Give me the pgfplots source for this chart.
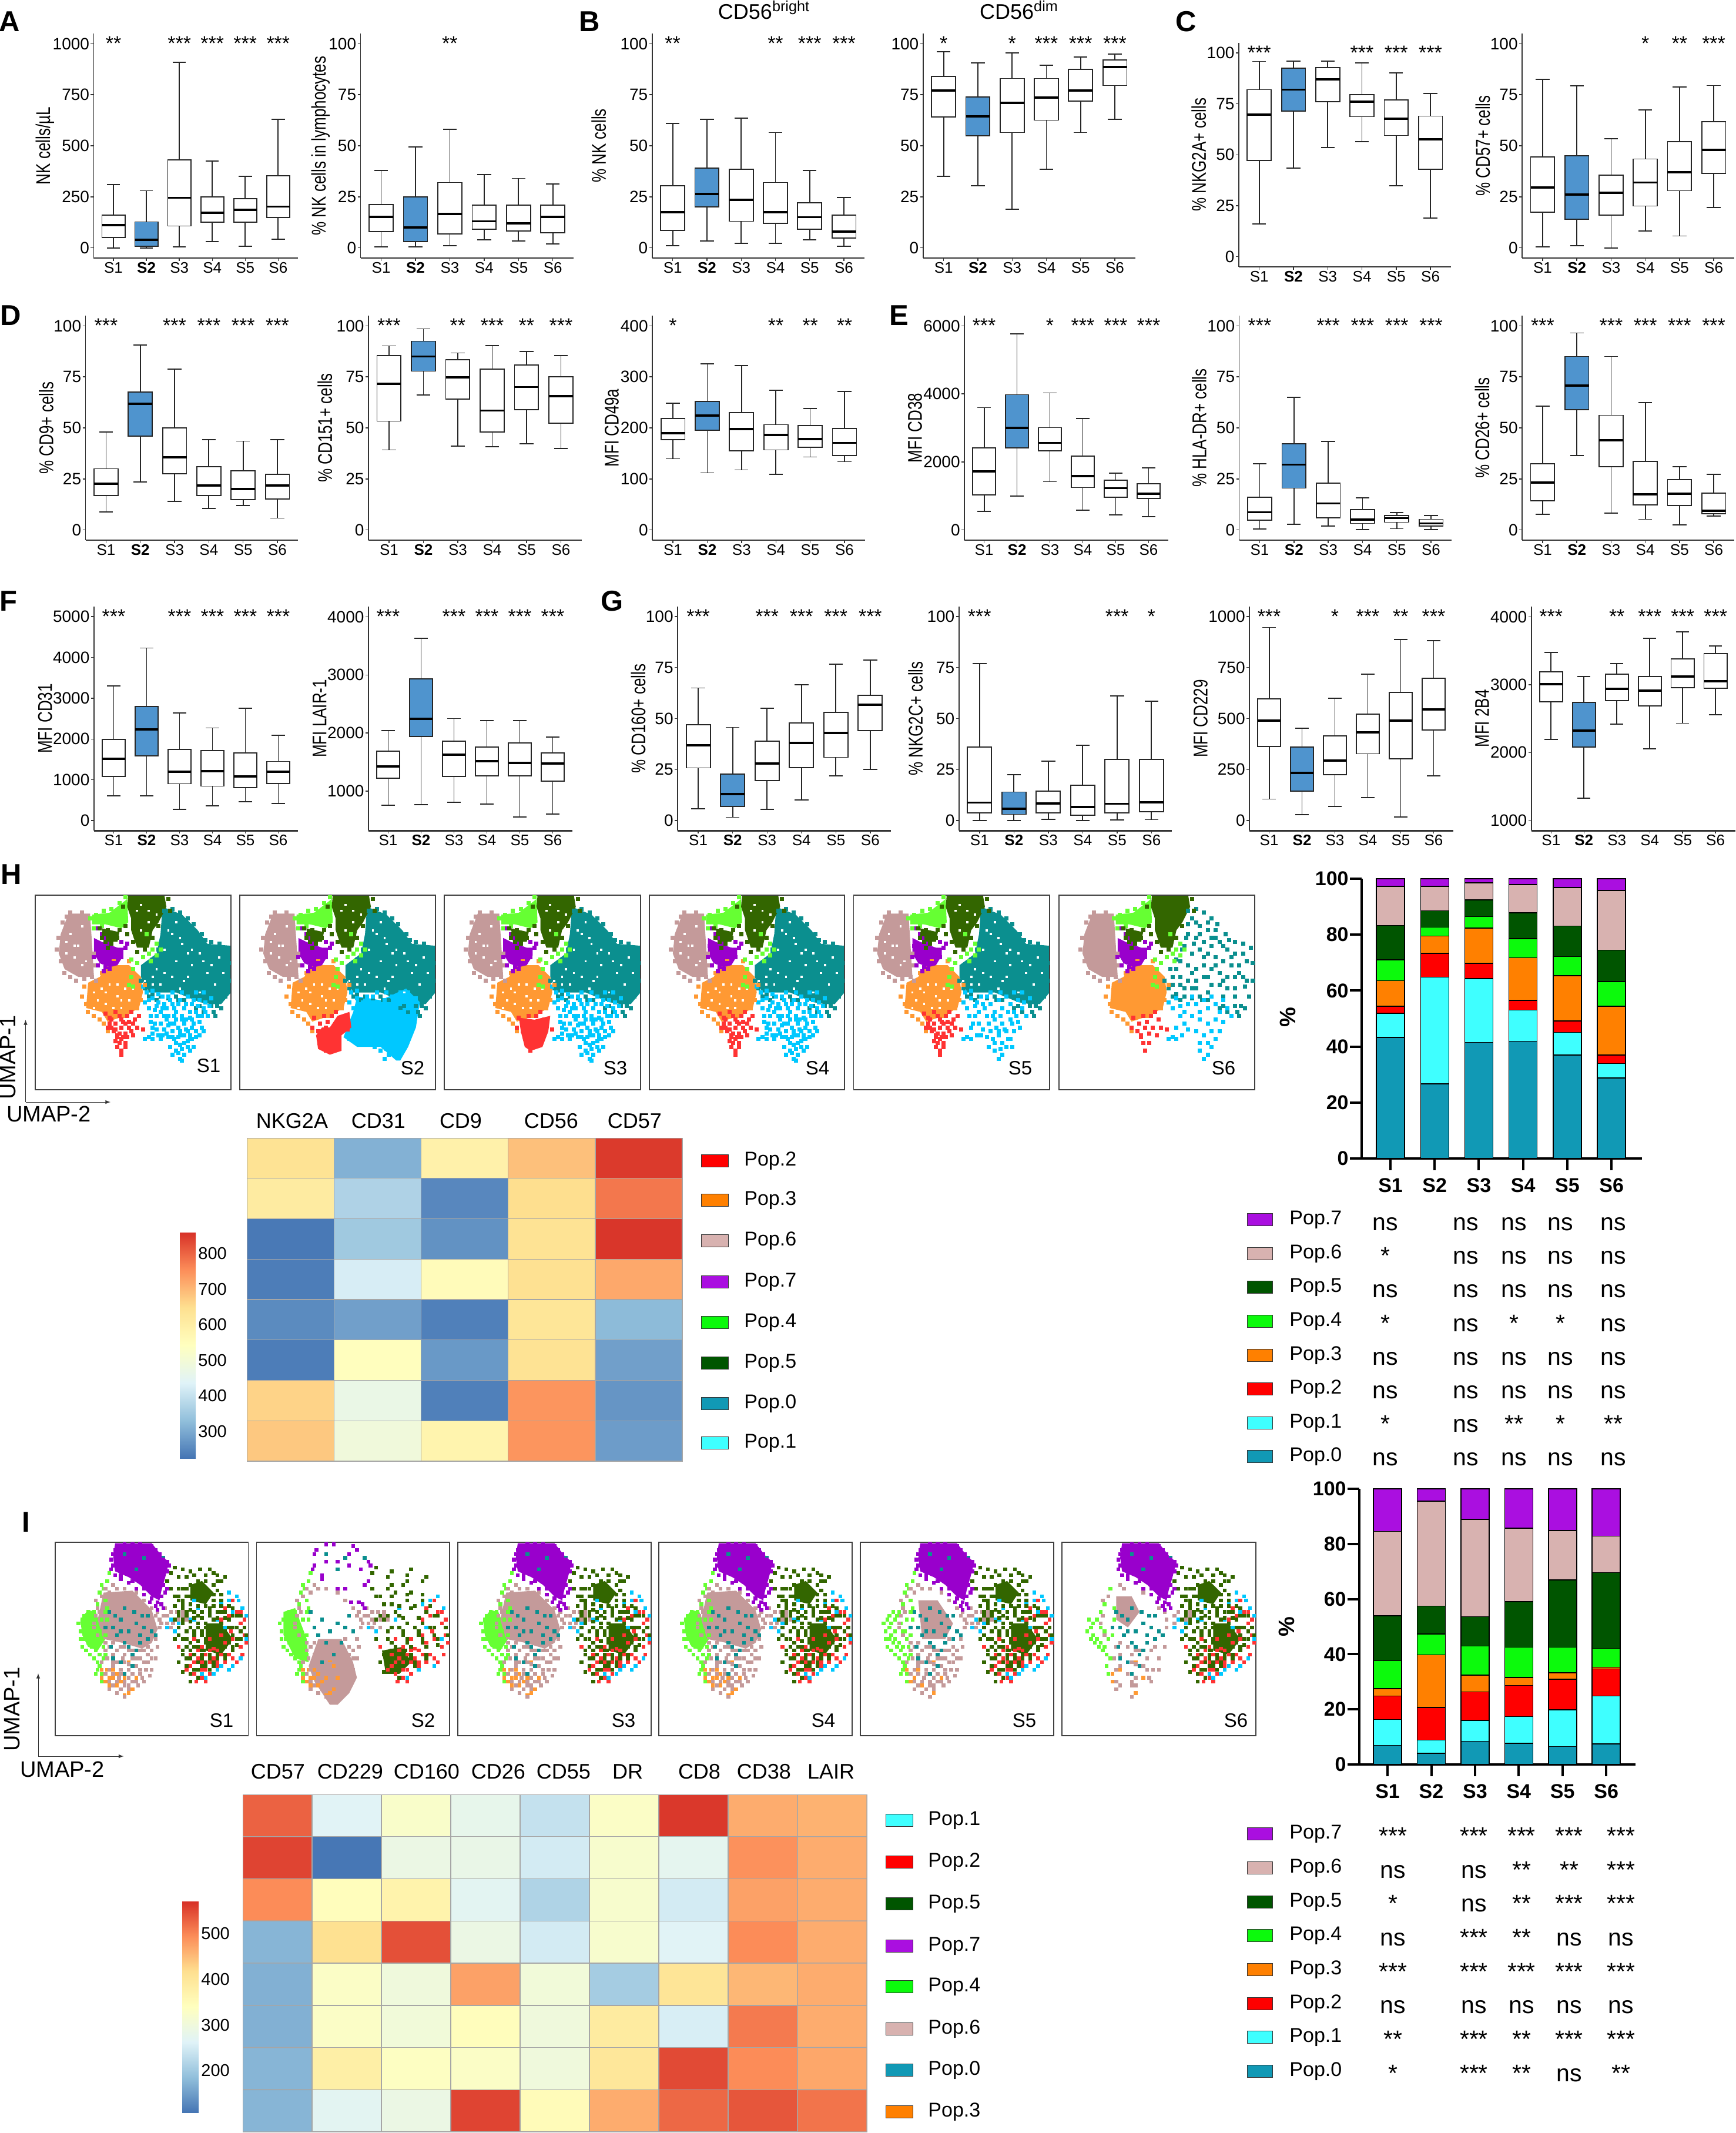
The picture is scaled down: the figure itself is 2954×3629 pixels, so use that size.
\documentclass[border=0pt]{standalone}
\usepackage{pgfplots}
\pgfplotsset{compat=1.18}
\usepackage{pgfplotstable}
\usepgfplotslibrary{statistics}
\usepackage{fontspec}
\setmainfont{Liberation Sans}
\newcommand\fs[1]{\fontsize{#1}{#1}\selectfont}
\definecolor{bluebox}{HTML}{4F94CE}
\definecolor{bP0}{HTML}{1199B5}\definecolor{bP1}{HTML}{3FFFFF}\definecolor{bP2}{HTML}{FF0000}\definecolor{bP3}{HTML}{FF8000}
\definecolor{bP4}{HTML}{0CFA0C}\definecolor{bP5}{HTML}{005500}\definecolor{bP6}{HTML}{D8B2B0}\definecolor{bP7}{HTML}{AA0FE0}
\definecolor{uP0}{HTML}{0B8F8F}\definecolor{uP1}{HTML}{00C8FF}\definecolor{uP2}{HTML}{FF3333}\definecolor{uP3}{HTML}{FF9933}
\definecolor{uP4}{HTML}{66FF33}\definecolor{uP5}{HTML}{336600}\definecolor{uP6}{HTML}{C49A9A}\definecolor{uP7}{HTML}{9900CC}

% ---------- UMAP points, panel H ----------
\newcommand\hPa{(66,8)(70,7)(74,9)(78,12)(81,15)(85,20)(87,23)(90,24)(94,25)(98,27)(99,35)(99,44)(97,52)(93,57)(91,60)(88,62)(90,57)(84,57)(80,56)(76,54)(72,52)(68,53)(64,52)(60,51)(56,48)(54,44)(57,38)(60,33)(63,28)(65,22)(66,15)(70,14)(76,18)(80,22)(69,25)(73,54)(82,58)(86,60)(92,62)(95,58)(78,52)(62,54)(58,52)}
\newcommand\hPab{(68,12)(72,16)(76,14)(80,18)(66,20)(70,22)(74,24)(78,26)(82,24)(86,28)(90,30)(94,30)(64,26)(68,30)(72,28)(76,30)(80,32)(84,34)(88,36)(92,36)(96,34)(62,34)(66,36)(70,38)(74,36)(78,38)(82,40)(86,42)(90,42)(94,42)(58,42)(62,42)(66,44)(70,44)(74,42)(78,46)(82,46)(86,48)(90,48)(95,47)(58,46)(64,48)(70,48)(76,50)(84,52)(60,38)(72,20)(78,22)(84,26)(74,32)(80,36)(68,40)(88,32)(92,40)(96,44)(84,44)(76,42)(68,48)(62,46)(90,52)}
\newcommand\hPb{(56,55)(58,58)(60,53)(62,57)(64,60)(66,56)(68,52)(70,56)(72,60)(74,54)(76,58)(78,52)(80,56)(82,60)(84,54)(86,58)(88,62)(84,65)(80,64)(76,66)(72,64)(68,62)(64,66)(62,62)(66,69)(70,70)(74,72)(78,70)(82,70)(80,74)(76,76)(72,76)(72,80)(76,82)(74,84)(78,78)(60,68)(58,73)(56,74)(60,74)(63,72)}
\newcommand\hPbb{(57,50)(60,49)(65,52)(70,50)(75,50)(82,50)(86,50)(90,53)(59,62)(63,55)(67,58)(71,62)(75,62)(79,60)(83,62)(87,55)(61,66)(65,72)(69,66)(73,68)(77,69)(81,66)(85,68)(79,74)(75,79)(71,74)(69,78)(81,78)(74,70)(68,73)}
\newcommand\hPbc{(55,47)(58,54)(61,59)(63,51)(65,58)(67,64)(69,54)(71,58)(73,56)(75,64)(77,56)(79,63)(81,54)(83,57)(85,62)(87,60)(89,57)(59,65)(62,69)(64,74)(67,71)(70,73)(73,73)(76,72)(79,72)(82,73)(80,68)(77,64)(71,66)(68,67)(66,62)(60,71)(74,77)(78,75)(73,81)(70,82)(75,85)(79,80)(84,72)(86,70)}
\newcommand\hPc{(38,63)(41,66)(43,62)(45,65)(47,62)(49,60)(51,64)(40,70)(42,72)(44,68)(46,71)(48,68)(50,72)(43,76)(46,76)(44,80)(42,73)(37,68)(52,68)(55,69)}
\newcommand\hPcb{(36,61)(39,64)(41,60)(44,64)(46,66)(48,65)(50,66)(39,68)(41,69)(43,71)(45,73)(47,73)(49,70)(41,75)(44,74)(46,78)(42,78)(44,82)(38,66)(53,62)}
\newcommand\hPd{(27,60)(30,62)(33,64)(35,66)(37,70)(36,58)(28,50)(25,47)(26,56)(30,46)(48,34)(50,38)(52,47)(54,54)(52,58)(49,60)(45,62)(56,46)(40,34)(34,40)(24,52)}
\newcommand\hPe{(28,12)(31,10)(35,8)(39,7)(43,4)(46,1)(44,9)(41,13)(34,16)(30,17)(57,20)(60,22)(62,25)(64,28)(60,28)(58,30)(55,32)(52,35)(50,38)(49,33)(59,34)(62,31)(49,42)(48,46)(50,47)}
\newcommand\hPf{(45,6)(68,2)(69,8)(63,16)(60,22)(56,28)(52,29)(50,24)(47,20)(46,16)(35,20)(37,18)(40,20)(42,22)(36,24)(39,25)(43,18)(33,17)(37,27)(34,22)}
\newcommand\hPg{(14,14)(16,11)(18,9)(24,9)(27,12)(12,22)(11,28)(13,34)(15,40)(18,42)(21,44)(25,43)(29,42)(30,36)(30,30)(20,14)(22,20)(26,30)(19,38)(31,44)}
\newcommand\hPh{(32,17)(35,22)(38,25)(41,28)(44,24)(46,27)(44,32)(40,35)(36,37)(32,36)(30,32)(31,26)(33,30)(36,30)(39,32)(34,20)(47,25)(38,38)(35,39)}
\newcommand\hW{(70,20)(75,25)(78,30)(84,30)(72,14)(66,28)(62,38)(70,42)(76,44)(80,36)(88,40)(92,46)(94,32)(84,50)(74,48)(64,46)(60,46)(56,44)(18,20)(22,26)(16,30)(24,36)(20,32)(36,50)(42,46)(44,54)(32,54)(30,58)(40,58)(52,8)(58,8)(54,18)(30,50)(34,48)(38,46)(42,52)(46,48)(50,48)(36,56)(44,58)(48,54)(16,24)(20,26)(26,34)(24,16)(58,14)(62,10)(54,5)(72,34)(78,42)(86,34)(96,40)(90,36)(66,40)(60,42)(74,22)(80,28)(68,18)}
% ---------- UMAP points, panel I ----------
\newcommand\iPh{(30,12)(32,3)(36,1)(44,1)(50,2)(54,6)(58,10)(58,15)(56,22)(55,28)(53,31)(50,29)(46,24)(40,20)(34,17)(55,18)(48,12)(40,8)(36,10)(44,16)}
\newcommand\iPhb{(31,4)(34,2)(40,1)(46,2)(52,4)(56,9)(59,12)(60,16)(58,20)(57,26)(55,32)(52,33)(49,31)(46,27)(42,24)(38,21)(34,19)(31,17)(29,14)(29,9)(30,6)(58,24)(56,34)(53,35)(54,14)(50,18)(42,10)(36,14)(48,6)(44,20)}
\newcommand\iPg{(21,30)(23,36)(20,42)(26,56)(30,58)(35,60)(38,63)(42,60)(46,56)(50,56)(53,54)(52,60)(50,66)(48,62)(44,66)(40,68)(38,70)(34,66)(30,64)(26,68)(28,72)(32,72)(36,74)(42,72)(45,70)(30,62)(34,54)(46,50)(54,40)(56,38)(60,36)(62,40)(58,42)(63,36)(66,38)(60,44)(27,60)(24,62)(38,56)(28,26)(32,24)}
\newcommand\iPgb{(24,28)(26,24)(30,22)(36,24)(42,26)(46,30)(50,34)(52,38)(54,44)(52,50)(48,54)(44,56)(40,56)(36,54)(30,52)(26,52)(22,48)(20,44)(21,38)(22,34)(28,54)(32,56)(36,58)(40,60)(44,60)(48,58)(50,60)(46,62)(42,64)(38,66)(34,68)(30,68)(28,66)(32,62)(36,62)(44,68)(47,66)(49,69)(46,72)(40,72)(36,72)(33,70)(30,74)(34,76)(38,74)(43,74)(28,76)(32,78)(36,80)(38,76)(58,38)(61,42)(64,40)(57,34)(66,36)(64,44)(60,40)(55,42)(53,36)(68,40)}
\newcommand\iPe{(14,40)(15,44)(13,46)(16,48)(18,50)(20,44)(22,46)(24,50)(26,48)(18,40)(20,36)(22,32)(24,28)(25,24)(16,42)(17,52)(15,50)(19,54)(21,56)(23,58)(25,60)(23,64)(24,68)(20,52)(22,54)(27,40)(27,34)}
\newcommand\iPeb{(12,42)(13,50)(14,54)(16,56)(18,58)(20,60)(22,62)(18,46)(15,38)(17,36)(19,38)(21,42)(23,46)(25,54)(26,58)(22,66)(24,72)(21,68)(26,30)(23,26)(24,22)(27,20)(28,16)(26,36)(24,40)}
\newcommand\iPf{(62,13)(66,14)(70,15)(75,14)(80,14)(84,17)(88,18)(82,22)(78,20)(74,20)(70,22)(66,24)(64,28)(68,28)(72,26)(76,24)(80,26)(84,25)(86,30)(82,30)(78,30)(74,30)(70,32)(66,34)(64,38)(68,36)(72,36)(76,36)(80,34)(84,36)(88,36)(92,34)(94,38)(90,40)(86,42)(82,40)(78,42)(74,42)(70,44)(66,42)(62,40)(64,48)(68,50)(72,48)(76,46)(80,46)(84,46)(88,46)(92,44)(96,46)(94,50)(90,52)(86,52)(82,52)(78,52)(74,54)(70,56)(66,56)(62,50)(68,60)(72,62)(76,60)(80,58)(84,58)(88,58)(92,56)(82,64)(78,64)(74,66)(70,68)(66,58)(80,38)(74,38)(86,36)(77,56)(83,43)}
\newcommand\iPfb{(60,16)(64,18)(68,18)(72,17)(78,17)(82,16)(86,20)(84,20)(76,22)(72,23)(68,24)(64,24)(62,28)(66,30)(70,28)(74,27)(78,27)(82,27)(86,27)(62,33)(66,32)(70,35)(74,33)(78,33)(82,33)(86,33)(90,33)(64,36)(68,38)(72,39)(76,39)(80,36)(84,39)(88,39)(92,38)(96,38)(66,40)(70,41)(74,44)(78,44)(82,44)(86,44)(90,44)(94,44)(98,44)(64,44)(68,46)(72,46)(76,48)(80,48)(84,48)(88,48)(92,48)(96,50)(99,48)(66,50)(70,52)(74,51)(78,50)(82,50)(86,50)(90,50)(94,53)(68,54)(72,54)(76,56)(80,54)(84,54)(88,54)(92,54)(72,58)(76,58)(80,60)(84,60)(88,60)(70,60)(74,62)(78,62)(82,62)(76,64)(72,66)(68,64)(64,62)(80,66)(66,67)(70,72)(74,70)(64,30)(60,24)(58,20)}
\newcommand\iPc{(86,40)(90,38)(94,36)(96,42)(98,48)(96,54)(92,60)(88,62)(84,62)(80,56)(76,54)(80,50)(86,48)(74,60)(72,50)(78,66)(82,60)(70,64)(76,70)(72,68)(64,54)(91,46)}
\newcommand\iPcb{(88,34)(92,30)(96,36)(98,40)(99,52)(97,58)(94,62)(90,58)(86,58)(82,55)(78,58)(74,56)(70,58)(80,62)(84,56)(88,52)(92,50)(76,62)(72,62)(68,66)(76,66)(80,68)(84,64)(78,72)(73,72)}
\newcommand\iPb{(86,32)(90,30)(94,28)(97,34)(98,44)(96,50)(92,64)(84,66)(78,70)(66,40)(58,44)(72,40)(88,44)(74,34)(62,46)}
\newcommand\iPbb{(90,26)(95,30)(99,38)(99,50)(96,60)(90,66)(86,64)(70,40)(64,42)(76,68)(82,68)(72,30)(60,40)(84,40)(92,36)}
\newcommand\iPa{(28,36)(34,40)(38,46)(42,42)(46,44)(32,48)(36,52)(44,52)(50,46)(48,38)(40,58)(34,62)(30,44)(56,8)(46,8)(42,14)(36,6)}
\newcommand\iPab{(26,44)(31,38)(36,34)(41,36)(45,38)(48,50)(44,48)(38,54)(42,56)(34,46)(29,54)(36,68)(40,64)(30,60)(52,48)}
\newcommand\iPd{(26,68)(28,70)(30,66)(34,66)(38,62)(40,64)(26,72)(32,74)(38,78)(24,66)(42,70)}
\newcommand\iPdb{(30,70)(36,70)(28,74)(34,72)(40,76)(36,79)(27,66)(44,66)(32,68)(24,70)}

\newcommand\ptsb[3]{\addplot[only marks,mark=square*,mark size=\msize,color=#2,mark options={solid,fill=#2,draw=#2,line width=0pt},#1] coordinates {#3};}
\newcommand\pts[3][]{\expandafter\ptsc\expandafter{#3}{#1}{#2}}
\newcommand\ptsc[3]{\ptsb{#2}{#3}{#1}}
\def\msize{1.5pt}
\newcommand\poly[2]{\addplot[fill=#1,draw=none] coordinates {#2};}
\newcommand\wh{\pts[mark size=.7pt]{white}{\hW}}

% polygons, H
\newcommand\hZero{\poly{uP0}{(65,6)(75,10)(83,18)(88,25)(100,26)(100,50)(95,56)(90,56)(84,55)(72,50)(58,50)(54,42)(54,36)(62,30)(64,20)}}
\newcommand\hFive{\poly{uP5}{(47.5,0)(66,0)(67,6)(63,14)(60,18)(58,27)(52,27)(49,18)(49,12)(47,6)}\poly{uP5}{(34,17)(43,19)(42,24)(35,24)}}
\newcommand\hFour{\poly{uP4}{(29,10)(38,9)(47,2)(47.5,14)(44,17)(36,15)(29,15)}}
\newcommand\hSix{\poly{uP6}{(17,9.5)(28,9.5)(29,25)(30,42)(22,42)(15,38)(12,30)(13,20)}}
\newcommand\hSeven{\poly{uP7}{(30,22)(34,24)(42,27)(45,27)(45,31)(42,36)(38,37)(33,35)(30,30)}}
\newcommand\hThree{\poly{uP3}{(36,36)(48,36)(54,42)(55,50)(53,58)(46,62)(37,65)(34,60)(26,58)(27,45)(33,42)}}
\newcommand\hCommonA{\pts{uP3}{\hPd}\pts{uP6}{\hPg}}
\newcommand\hCommonB{\hSix\wh\hFour\pts{uP4}{\hPe}\hSeven\pts{uP7}{\hPh}\hFive\pts{uP5}{\hPf}}
\newcommand\umap[5]{% x0 y0 x1 y1 body
\begin{axis}[at={(\fpeval{(#1)*0.5}pt,\fpeval{-(#4)*0.5}pt)},anchor=south west,scale only axis,width={\fpeval{(#3-#1)*0.5}pt},height={\fpeval{(#4-#2)*0.5}pt},xmin=0,xmax=100,ymin=0,ymax=100,y dir=reverse,ticks=none,axis line style={draw=black!75,line width=.9pt},axis on top]
#5
\end{axis}}

% polygons, I
\newcommand\iSeven{\poly{uP7}{(31,.5)(50,.5)(56,8)(59,10)(57,18)(55,25)(54,30)(50,28)(44,22)(38,18)(31,15)(30,8)}}
\newcommand\iSix{\poly{uP6}{(25,26)(40,25)(50,35)(53,45)(50,52)(45,55)(35,52)(25,50)(22,40)}}
\newcommand\iFour{\poly{uP4}{(13,40)(17,35)(21,36)(24,44)(26,50)(22,56)(17,54)(14,48)}}
\newcommand\iFive{\poly{uP5}{(70,22)(76,20)(82,26)(78,32)(70,30)}\poly{uP5}{(78,42)(86,42)(92,50)(86,58)(78,56)}}
\newcommand\iAll{\pts{uP3}{\iPd}\pts{uP3}{\iPdb}\pts{uP4}{\iPe}\pts{uP4}{\iPeb}\iFour\iSix\pts{uP6}{\iPg}\pts{uP6}{\iPgb}\pts{uP0}{\iPa}\pts{uP0}{\iPab}\iSeven\pts{uP7}{\iPh}\pts{uP7}{\iPhb}\pts{uP1}{\iPb}\pts{uP1}{\iPbb}\pts{uP2}{\iPc}\pts{uP5}{\iPf}\pts{uP5}{\iPfb}\iFive\pts{uP2}{\iPcb}}

% ---------- boxplots ----------
\newcommand\Bx[6]{\addplot[draw=black!85,line width=.9pt,fill=white,forget plot,boxplot prepared={draw direction=y,draw position=#1,lower whisker=#2,lower quartile=#3,median=#4,upper quartile=#5,upper whisker=#6,box extend=0.7,whisker extend=0.4,every median/.style={line width=1.9pt,black}}] coordinates {};}
\newcommand\Bb[6]{\addplot[draw=black!85,line width=.9pt,fill=bluebox,forget plot,boxplot prepared={draw direction=y,draw position=#1,lower whisker=#2,lower quartile=#3,median=#4,upper quartile=#5,upper whisker=#6,box extend=0.7,whisker extend=0.4,every median/.style={line width=1.9pt,black}}] coordinates {};}
\newcommand\St[2]{\node[anchor=base,font=\fs{17}] at (axis cs:#1,\starY) {#2};}
\newcommand\rowset[2]{\def\rt{#1}\def\rb{#2}}
\newcommand\boxpanel[8]{% x0 x1 ymin ymax ticks label offset body
\edef\starY{\fpeval{#3+0.925*(#4-#3)}}%
\begin{axis}[at={(\fpeval{(#1)*0.5}pt,\fpeval{-(\rb)*0.5}pt)},anchor=south west,scale only axis,width={\fpeval{(#2-#1)*0.5}pt},height={\fpeval{(\rb-\rt)*0.5}pt},
 xmin=0.4,xmax=6.6,ymin=#3,ymax=#4,axis lines=left,clip=false,
 x axis line style={-,line width=1.4pt,draw=black!80},y axis line style={-,line width=.8pt,draw=black!80},
 tick style={draw=black!80,line width=.7pt},tick align=outside,major tick length=2.5pt,
 xtick={1,2,3,4,5,6},xticklabels={S1,\textbf{S2},S3,S4,S5,S6},ytick={#5},scaled y ticks=false,
 xticklabel style={font=\fs{13},yshift=2.5pt},yticklabel style={font=\fs{14},inner xsep=1pt,/pgf/number format/.cd,fixed,1000 sep={},assume math mode=true}]
#8
\end{axis}
\node[rotate=90,font=\fs{13}] at ({#1+#7},{(\rt+\rb)/2}) {\scalebox{1}[1.3]{#6}};}
\newcommand\letter[3]{\node[font=\fs{24.5}\bfseries] at (#1,#2) {#3};}
\def\tc{0,25,50,75,100}

% ---------- stacked bars ----------
\newcommand\stackaxis[6]{% x0 x1 ytop ybot xmin xmax (body after)
\begin{axis}[at={(\fpeval{(#1)*0.5}pt,\fpeval{-(#4)*0.5}pt)},anchor=south west,scale only axis,width={\fpeval{(#2-#1)*0.5}pt},height={\fpeval{(#4-#3)*0.5}pt},
 xmin=#5,xmax=#6,ymin=0,ymax=100,axis lines=left,axis line style={-,line width=2pt},clip=false,
 ybar stacked,bar width=24pt,tick align=outside,major tick length=10pt,tick style={line width=2pt,black},
 xtick={1,2,3,4,5,6},xticklabels={S1,S2,S3,S4,S5,S6},ytick={0,20,40,60,80,100},
 ticklabel style={font=\fs{17}\bfseries},xticklabel style={yshift=-3.5pt},yticklabel style={/pgf/number format/assume math mode=true,inner xsep=1pt}]
}
\newcommand\seg[2]{\addplot[fill=#1,draw=black,line width=.75pt] coordinates {#2};}
\newcommand\swatch[5]{\draw[fill=#4,draw=black!80,line width=.5pt] (#1,{#3-10.5}) rectangle (#2,{#3+10.5}); \node[anchor=west,inner sep=0pt,font=\fs{17}] at ({#2+\swgap},#3) {#5};}
\def\swgap{29}
\newcommand\sg[3]{\node[anchor=base,font=\fs{20.5},inner sep=0pt] at (#1,#2) {#3};}
\newcommand\sigrow[6]{\sg{\ca}{#1}{#2}\sg{\cb}{#1}{#3}\sg{\cc}{#1}{#4}\sg{\cd}{#1}{#5}\sg{\ce}{#1}{#6}}
\newcommand\umlab[3]{\node[font=\fs{16.5}] at (#1,#2) {#3};}
\pgfplotsset{colormap={rdy}{rgb255=(69,117,180) rgb255=(145,191,219) rgb255=(224,243,248) rgb255=(255,255,191) rgb255=(254,224,144) rgb255=(252,141,89) rgb255=(215,48,39)}}

\begin{document}
\begin{tikzpicture}[x=0.5pt,y=-0.5pt]
\useasboundingbox (0,0) rectangle (2954,3629);
\fill[white] (0,0) rectangle (2954,3629);
% letters
\letter{16}{37}{A}\letter{1003}{37}{B}\letter{2018}{37}{C}\letter{18}{537}{D}\letter{1530}{537}{E}\letter{14}{1023}{F}\letter{1042}{1023}{G}\letter{19}{1488}{H}\letter{44}{2590}{I}
\node[font=\fs{18}] at (1300,17) {CD56\textsuperscript{bright}};
\node[font=\fs{18}] at (1734,17) {CD56\textsuperscript{dim}};

% ===== row 1 =====
\rowset{57}{439}
\boxpanel{159.4}{507}{-50}{1050}{0,250,500,750,1000}{NK cells/µL}{-83}{
\Bx{1}{0}{50}{112}{160}{310}\Bb{2}{0}{8}{40}{127}{280}\Bx{3}{5}{107}{245}{430}{910}\Bx{4}{30}{125}{172}{250}{425}\Bx{5}{8}{125}{185}{241}{350}\Bx{6}{42}{148}{202}{352}{630}
\St{1}{**}\St{3}{***}\St{4}{***}\St{5}{***}\St{6}{***}}
\boxpanel{613.5}{975.8}{-5}{105}{\tc}{\% NK cells in lymphocytes}{-68}{
\Bx{1}{.5}{8}{15.2}{21.2}{38}\Bb{2}{.5}{3}{10}{25}{49.5}\Bx{3}{1}{6.7}{16.5}{32}{58}\Bx{4}{4}{9}{13}{21}{36}\Bx{5}{3.3}{8.2}{12}{21}{34}\Bx{6}{1.8}{7.4}{15.2}{21}{31.3}
\St{3}{**}}
\boxpanel{1109.7}{1471}{-5}{105}{\tc}{\% NK cells}{-91}{
\Bx{1}{1}{8.5}{17.5}{30.5}{61}\Bb{2}{3.4}{20}{26.5}{39}{63}\Bx{3}{2.3}{13}{23.5}{38.5}{63.5}\Bx{4}{2.2}{12}{17.5}{32}{56.5}\Bx{5}{3.9}{9.2}{15}{22}{38}\Bx{6}{.8}{4.7}{8}{16}{24.7}
\St{1}{**}\St{4}{**}\St{5}{***}\St{6}{***}}
\boxpanel{1570.7}{1932}{-5}{105}{\tc}{}{-70}{
\Bx{1}{35}{64}{77}{84}{96}\Bb{2}{30.5}{55}{64.5}{74}{90.5}\Bx{3}{19}{56.5}{71}{83}{95.5}\Bx{4}{38.5}{62.5}{73.5}{83}{89.5}\Bx{5}{56.5}{72}{77}{87.5}{93.5}\Bx{6}{63}{79.5}{88.5}{92}{95}
\St{1}{*}\St{3}{*}\St{4}{***}\St{5}{***}\St{6}{***}}
\rowset{72.7}{454}
\boxpanel{2107.8}{2469}{-5}{105}{\tc}{\% NKG2A+ cells}{-68}{
\Bx{1}{16}{47.2}{69.7}{82}{95.8}\Bb{2}{43.5}{71.5}{82}{92.5}{96}\Bx{3}{53.5}{76}{87}{92.7}{96}\Bx{4}{56.5}{68.7}{76}{79.5}{95.2}\Bx{5}{34.8}{59.5}{67.7}{77}{90.3}\Bx{6}{19}{43}{57.5}{69}{80}
\St{1}{***}\St{4}{***}\St{5}{***}\St{6}{***}}
\rowset{57}{439}
\boxpanel{2590}{2951}{-5}{105}{\tc}{\% CD57+ cells}{-67}{
\Bx{1}{.5}{17.5}{29.5}{44.5}{82.5}\Bb{2}{1}{14}{26}{45}{79.3}\Bx{3}{0}{16}{27}{35.7}{53.5}\Bx{4}{8.3}{20.5}{32}{43.5}{67.5}\Bx{5}{5.8}{28}{37}{52}{78.7}\Bx{6}{19.8}{36.5}{48}{61.7}{79.5}
\St{4}{*}\St{5}{**}\St{6}{***}}

% ===== row 2 =====
\rowset{537}{919}
\boxpanel{145.5}{507}{-5}{105}{\tc}{\% CD9+ cells}{-67}{
\Bx{1}{8.8}{17}{22.7}{30}{48}\Bb{2}{23.5}{46}{61.7}{67.5}{90.7}\Bx{3}{14}{27.5}{35.5}{50}{78.8}\Bx{4}{10.5}{16.8}{21.8}{31}{44.3}\Bx{5}{12}{14.8}{20}{29}{43.5}\Bx{6}{5.8}{15.2}{21.8}{27.2}{44.3}
\St{1}{***}\St{3}{***}\St{4}{***}\St{5}{***}\St{6}{***}}
\boxpanel{626.8}{989.5}{-5}{105}{\tc}{\% CD151+ cells}{-74}{
\Bx{1}{39.2}{53.3}{71.7}{85.5}{90.2}\Bb{2}{66.2}{77.8}{85}{92.5}{98.5}\Bx{3}{41}{64}{74.7}{83.5}{86.7}\Bx{4}{40.8}{48}{58.5}{78.7}{90.3}\Bx{5}{42.3}{59}{70}{80.7}{87.5}\Bx{6}{40}{52.3}{65.5}{75}{85.5}
\St{1}{***}\St{3}{**}\St{4}{***}\St{5}{**}\St{6}{***}}
\boxpanel{1110}{1472}{-20}{420}{0,100,200,300,400}{MFI CD49a}{-69}{
\Bx{1}{139.5}{177}{190}{218}{248.6}\Bb{2}{111.8}{195}{224}{252}{326}\Bx{3}{117.6}{155}{197.5}{230}{322}\Bx{4}{108.7}{156.8}{186}{206.3}{274}\Bx{5}{143}{162}{178}{205}{238}\Bx{6}{133.7}{146}{170.6}{199}{271}
\St{1}{*}\St{4}{**}\St{5}{**}\St{6}{**}}
\boxpanel{1641}{1988}{-300}{6300}{0,2000,4000,6000}{MFI CD38}{-84}{
\Bx{1}{548}{1037}{1723}{2409}{3596}\Bb{2}{991}{2409}{3003}{3977}{5758}\Bx{3}{1418}{2323}{2559}{3009}{4029}\Bx{4}{576}{1245}{1585}{2167}{3280}\Bx{5}{444}{968}{1228}{1464}{1666}\Bx{6}{398}{928}{1066}{1360}{1821}
\St{1}{***}\St{3}{*}\St{4}{***}\St{5}{***}\St{6}{***}}
\boxpanel{2108.5}{2470}{-5}{105}{\tc}{\% HLA-DR+ cells}{-68}{
\Bx{1}{.5}{4.8}{8.7}{16}{32.5}\Bb{2}{2.8}{20.5}{32}{42.3}{65}\Bx{3}{2}{6}{13}{23}{43.3}\Bx{4}{.2}{3.2}{5.1}{10}{15.8}\Bx{5}{.6}{3.8}{5.8}{7}{8.6}\Bx{6}{.1}{1.8}{3.2}{5.2}{7.2}
\St{1}{***}\St{3}{***}\St{4}{***}\St{5}{***}\St{6}{***}}
\boxpanel{2590}{2951}{-5}{105}{\tc}{\% CD26+ cells}{-68}{
\Bx{1}{7.6}{14.2}{23.3}{32.5}{60.7}\Bb{2}{36.5}{59}{70.7}{85}{96.5}\Bx{3}{8.2}{31}{44}{56.2}{85}\Bx{4}{5.2}{12.2}{17.4}{33.7}{62.3}\Bx{5}{2.5}{12.1}{17.8}{24.7}{31}\Bx{6}{6.8}{8}{9.4}{18}{27.3}
\St{1}{***}\St{3}{***}\St{4}{***}\St{5}{***}\St{6}{***}}

% ===== row 3 =====
\rowset{1031.7}{1413.3}
\boxpanel{159.8}{507}{-250}{5250}{0,1000,2000,3000,4000,5000}{MFI CD31}{-83}{
\Bx{1}{601}{1078}{1511}{1987}{3301}\Bb{2}{606}{1588}{2233}{2801}{4230}\Bx{3}{279}{900}{1198}{1742}{2632}\Bx{4}{356}{842}{1208}{1718}{2271}\Bx{5}{462}{808}{1083}{1660}{2748}\Bx{6}{419}{910}{1198}{1448}{2089}
\St{1}{***}\St{3}{***}\St{4}{***}\St{5}{***}\St{6}{***}}
\boxpanel{626.8}{974}{319}{4179}{1000,2000,3000,4000}{MFI LAIR-1}{-83}{
\Bx{1}{757}{1222}{1421}{1688}{2045}\Bb{2}{767}{1944}{2244}{2935}{3629}\Bx{3}{804}{1249}{1627}{1863}{2250}\Bx{4}{781}{1263}{1516}{1755}{2214}\Bx{5}{555}{1260}{1482}{1829}{2214}\Bx{6}{606}{1172}{1479}{1661}{1931}
\St{1}{***}\St{3}{***}\St{4}{***}\St{5}{***}\St{6}{***}}
\boxpanel{1153}{1516}{-5}{105}{\tc}{\% CD160+ cells}{-67}{
\Bx{1}{5.7}{25.8}{37}{47}{65}\Bb{2}{1.6}{7}{12.9}{22.7}{45.7}\Bx{3}{5.4}{19.5}{28}{39}{55}\Bx{4}{10}{26}{38}{47.8}{66.6}\Bx{5}{21.8}{31}{43}{53}{76.7}\Bx{6}{25}{44}{56.8}{61.3}{78.6}
\St{1}{***}\St{3}{***}\St{4}{***}\St{5}{***}\St{6}{***}}
\boxpanel{1631.7}{1994.4}{-5}{105}{\tc}{\% NKG2C+ cells}{-74}{
\Bx{1}{0}{3.8}{8.8}{36}{77}\Bb{2}{0}{3}{5.7}{14}{22.5}\Bx{3}{.5}{3.7}{8.3}{14.3}{29}\Bx{4}{0}{2.5}{6.7}{17.3}{37}\Bx{5}{.2}{3.7}{8.2}{30}{61}\Bx{6}{.4}{4.3}{9}{30}{58.4}
\St{1}{***}\St{5}{***}\St{6}{*}}
\boxpanel{2126}{2473}{-50}{1050}{0,250,500,750,1000}{MFI CD229}{-83}{
\Bx{1}{105}{362}{490}{597}{947}\Bb{2}{28}{143}{234}{361}{453}\Bx{3}{69}{224}{295}{416}{600}\Bx{4}{113}{327}{433}{522}{718}\Bx{5}{17}{302}{489}{629}{888}\Bx{6}{218}{443}{545}{697}{881}
\St{1}{***}\St{3}{*}\St{4}{***}\St{5}{**}\St{6}{***}}
\boxpanel{2605.7}{2952.7}{847}{4153}{1000,2000,3000,4000}{MFI 2B4}{-84}{
\Bx{1}{2190}{2750}{3010}{3186}{3472}\Bb{2}{1326}{2080}{2325}{2741}{3122}\Bx{3}{2421}{2764}{2940}{3157}{3310}\Bx{4}{2051}{2689}{2914}{3117}{3683}\Bx{5}{2430}{2952}{3117}{3377}{3775}\Bx{6}{2559}{2943}{3050}{3460}{3573}
\St{1}{***}\St{3}{**}\St{4}{***}\St{5}{***}\St{6}{***}}

% ===== H UMAPs =====
\umap{60}{1523}{393}{1854}{\hZero\pts{uP0}{\hPa}\pts{uP1}{\hPb}\pts{uP1}{\hPbb}\pts{uP1}{\hPbc}\hThree\hCommonA\pts{uP2}{\hPc}\pts{uP2}{\hPcb}\hCommonB}
\umap{408}{1523}{741}{1854}{\hZero\pts{uP0}{\hPa}\poly{uP1}{(60,52)(72,54)(85,48)(92,55)(90,68)(86,78)(82,85)(80,85)(72,78)(60,78)(53,73)(56,65)(58,60)}\pts{uP1}{\hPb}\pts{uP1}{\hPbb}\hThree\hCommonA\poly{uP2}{(50,62)(56,60)(57,68)(52,72)(52,80)(46,82)(40,79)(39,72)(42,68)(46,68)}\pts{uP2}{\hPc}\hCommonB}
\umap{756}{1523}{1090}{1854}{\hZero\pts{uP0}{\hPa}\pts{uP1}{\hPb}\pts{uP1}{\hPbb}\pts{uP1}{\hPbc}\hThree\hCommonA\poly{uP2}{(38,63)(46,64)(54,62)(53,70)(50,78)(44,80)(41,78)(39,70)}\pts{uP2}{\hPc}\hCommonB}
\umap{1105}{1523}{1437}{1854}{\hZero\pts{uP0}{\hPa}\pts{uP1}{\hPb}\pts{uP1}{\hPbb}\pts{uP1}{\hPbc}\hThree\hCommonA\pts{uP2}{\hPc}\pts{uP2}{\hPcb}\hCommonB}
\umap{1452.5}{1523}{1786}{1854}{\hZero\pts{uP0}{\hPa}\pts{uP1}{\hPb}\pts{uP1}{\hPbb}\hThree\hCommonA\pts{uP2}{\hPc}\pts{uP2}{\hPcb}\hCommonB}
\umap{1802}{1523}{2135}{1854}{\pts{uP0}{\hPa}\pts{uP0}{\hPab}\pts{uP1}{\hPb}\pts{uP3}{\hPd}\hThree\pts{uP6}{\hPg}\pts{uP2}{\hPc}\hSix\hFour\pts{uP4}{\hPe}\hSeven\pts{uP7}{\hPh}\hFive\pts{uP5}{\hPf}}
\umlab{355}{1813}{S1}\umlab{702}{1817}{S2}\umlab{1047}{1817}{S3}\umlab{1391}{1817}{S4}\umlab{1736}{1817}{S5}\umlab{2082}{1817}{S6}
\draw[-latex,black!80,line width=.5pt] (43.5,1875) -- (43.5,1735);
\draw[-latex,black!80,line width=.5pt] (43.5,1875) -- (188,1875);
\node[rotate=90,font=\fs{19}] at (14,1799) {UMAP-1};
\node[font=\fs{19}] at (83,1895) {UMAP-2};

% H heatmap
\begin{axis}[at={(210pt,-1243pt)},anchor=south west,scale only axis,width=370.5pt,height=275pt,xmin=-.5,xmax=4.5,ymin=-.5,ymax=7.5,y dir=reverse,ticks=none,axis line style={draw=gray!70},point meta min=224,point meta max=861,colormap name=rdy,colorbar,
 colorbar style={at={(parent axis.south west)},anchor=south west,xshift=-65.5pt,yshift=2.5pt,width=13.5pt,height=192.5pt,ytick={300,400,500,600,700,800},ytick pos=right,major tick length=0pt,axis line style={draw=none},yticklabel style={font=\fs{14.5},inner xsep=2pt,/pgf/number format/assume math mode=true}}]
\addplot[matrix plot,mesh/cols=5,point meta=explicit,draw=gray!70,line width=.7pt] coordinates {
(0,0)[640](1,0)[310](2,0)[590](3,0)[690](4,0)[850]
(0,1)[610](1,1)[370](2,1)[250](3,1)[650](4,1)[780]
(0,2)[230](1,2)[350](2,2)[265](3,2)[640](4,2)[855]
(0,3)[235](1,3)[425](2,3)[555](3,3)[645](4,3)[720]
(0,4)[255](1,4)[285](2,4)[240](3,4)[630](4,4)[325]
(0,5)[235](1,5)[545](2,5)[275](3,5)[640](4,5)[285]
(0,6)[665](1,6)[470](2,6)[240](3,6)[745](4,6)[270]
(0,7)[680](1,7)[490](2,7)[580](3,7)[745](4,7)[280]};
\end{axis}
\node[font=\fs{18}] at (497,1907) {NKG2A};\node[font=\fs{18}] at (644,1907) {CD31};\node[font=\fs{18}] at (784,1907) {CD9};\node[font=\fs{18}] at (938,1907) {CD56};\node[font=\fs{18}] at (1080,1907) {CD57};
\def\swgap{27}
\swatch{1193}{1239}{1975}{bP2}{Pop.2}\swatch{1193}{1239}{2042}{bP3}{Pop.3}\swatch{1193}{1239}{2111}{bP6}{Pop.6}\swatch{1193}{1239}{2181}{bP7}{Pop.7}\swatch{1193}{1239}{2250}{bP4}{Pop.4}\swatch{1193}{1239}{2319}{bP5}{Pop.5}\swatch{1193}{1239}{2388}{bP0}{Pop.0}\swatch{1193}{1239}{2455}{bP1}{Pop.1}

% H stacked
\stackaxis{2317}{2794}{1495}{1971}{0.348}{6.69}
\seg{bP0}{(1,43.3)(2,26.7)(3,41.5)(4,41.9)(5,37)(6,28.8)}
\seg{bP1}{(1,8.6)(2,38.1)(3,22.8)(4,11.1)(5,8.1)(6,5.1)}
\seg{bP2}{(1,2.5)(2,8.5)(3,5.5)(4,3.5)(5,4.1)(6,3.1)}
\seg{bP3}{(1,9.2)(2,6.2)(3,12.6)(4,15.2)(5,16.1)(6,17.4)}
\seg{bP4}{(1,7.4)(2,3.2)(3,4.1)(4,6.9)(5,6.9)(6,8.8)}
\seg{bP5}{(1,12.3)(2,5.9)(3,5.9)(4,9.2)(5,10.9)(6,11.3)}
\seg{bP6}{(1,14)(2,8.7)(3,6.1)(4,10.1)(5,13.8)(6,21.3)}
\seg{bP7}{(1,2.7)(2,2.7)(3,1.5)(4,2.1)(5,3.1)(6,4.2)}
\end{axis}
\node[rotate=90,font=\fs{19}\bfseries] at (2191,1731) {\%};
\def\swgap{29}
\swatch{2122}{2165}{2075}{bP7}{Pop.7}\swatch{2122}{2165}{2133}{bP6}{Pop.6}\swatch{2122}{2165}{2190}{bP5}{Pop.5}\swatch{2122}{2165}{2248}{bP4}{Pop.4}\swatch{2122}{2165}{2306}{bP3}{Pop.3}\swatch{2122}{2165}{2363}{bP2}{Pop.2}\swatch{2122}{2165}{2421}{bP1}{Pop.1}\swatch{2122}{2165}{2478}{bP0}{Pop.0}
\def\ca{2357}\def\cb{2494}\def\cc{2576}\def\cd{2655}\def\ce{2745}
\sigrow{2093}{ns}{ns}{ns}{ns}{ns}
\sigrow{2150}{*}{ns}{ns}{ns}{ns}
\sigrow{2207}{ns}{ns}{ns}{ns}{ns}
\sigrow{2265}{*}{ns}{*}{*}{ns}
\sigrow{2322}{ns}{ns}{ns}{ns}{ns}
\sigrow{2379}{ns}{ns}{ns}{ns}{ns}
\sigrow{2436}{*}{ns}{**}{*}{**}
\sigrow{2493}{ns}{ns}{ns}{ns}{ns}

% ===== I UMAPs =====
\def\msize{1.35pt}
\umap{94}{2624}{422.5}{2953}{\iAll}
\umap{436.5}{2624}{765}{2953}{\pts{uP3}{\iPd}\pts{uP3}{\iPdb}\pts{uP4}{\iPe}\pts{uP4}{\iPeb}\poly{uP4}{(14,36)(20,34)(26,50)(27,62)(20,60)(14,48)}\poly{uP6}{(32,50)(44,50)(50,62)(52,70)(48,78)(42,84)(38,84)(30,72)(27,64)}\pts{uP6}{\iPg}\pts{uP6}{\iPgb}\pts{uP0}{\iPa}\pts[each nth point=2]{uP7}{\iPh}\pts[each nth point=2]{uP7}{\iPhb}\pts{uP1}{\iPb}\pts{uP2}{\iPc}\pts[each nth point=2]{uP5}{\iPf}\pts[each nth point=2]{uP5}{\iPfb}\poly{uP5}{(65,56)(76,54)(80,62)(74,68)(67,68)}\pts{uP2}{\iPcb}}
\umap{779}{2624}{1108}{2953}{\iAll}
\umap{1121}{2624}{1450}{2953}{\iAll}
\umap{1464}{2624}{1792.6}{2953}{\pts{uP3}{\iPd}\pts{uP4}{\iPe}\pts{uP4}{\iPeb}\pts{uP6}{\iPg}\pts{uP6}{\iPgb}\poly{uP6}{(30,30)(40,30)(48,42)(44,50)(32,50)}\pts{uP0}{\iPa}\pts{uP0}{\iPab}\iSeven\pts{uP7}{\iPh}\pts{uP7}{\iPhb}\pts{uP1}{\iPb}\pts{uP1}{\iPbb}\pts{uP2}{\iPc}\pts{uP5}{\iPf}\pts{uP5}{\iPfb}\iFive\pts{uP2}{\iPcb}}
\umap{1807}{2624}{2137}{2953}{\pts[each nth point=2]{uP3}{\iPd}\pts{uP4}{\iPe}\pts[each nth point=2]{uP6}{\iPg}\pts[each nth point=2]{uP6}{\iPgb}\poly{uP6}{(28,28)(36,28)(40,36)(34,44)(28,40)}\pts{uP0}{\iPa}\pts{uP0}{\iPab}\iSeven\pts{uP7}{\iPh}\pts{uP7}{\iPhb}\pts{uP1}{\iPb}\pts{uP1}{\iPbb}\pts{uP2}{\iPc}\pts{uP5}{\iPf}\pts{uP5}{\iPfb}\iFive\pts{uP2}{\iPcb}}
\umlab{377}{2927}{S1}\umlab{720}{2927}{S2}\umlab{1061}{2927}{S3}\umlab{1401}{2927}{S4}\umlab{1743}{2927}{S5}\umlab{2103}{2927}{S6}
\draw[-latex,black!80,line width=.5pt] (65,2988) -- (65,2847);
\draw[-latex,black!80,line width=.5pt] (65,2988) -- (210.5,2988);
\node[rotate=90,font=\fs{19}] at (21,2908) {UMAP-1};
\node[font=\fs{19}] at (106,3010) {UMAP-2};

% I heatmap
\begin{axis}[at={(206.5pt,-1813.5pt)},anchor=south west,scale only axis,width=531pt,height=287pt,xmin=-.5,xmax=8.5,ymin=-.5,ymax=7.5,y dir=reverse,ticks=none,axis line style={draw=gray!70},point meta min=108,point meta max=571,colormap name=rdy,colorbar,
 colorbar style={at={(parent axis.south west)},anchor=south west,xshift=-60pt,yshift=16.3pt,width=14pt,height=180pt,ytick={200,300,400,500},ytick pos=right,major tick length=0pt,axis line style={draw=none},yticklabel style={font=\fs{14.5},inner xsep=2pt,/pgf/number format/assume math mode=true}}]
\addplot[matrix plot,mesh/cols=9,point meta=explicit,draw=gray!70,line width=.7pt] coordinates {
(0,0)[530](1,0)[265](2,0)[325](3,0)[280](4,0)[235](5,0)[330](6,0)[565](7,0)[465](8,0)[460]
(0,1)[555](1,1)[110](2,1)[290](3,1)[285](4,1)[250](5,1)[320](6,1)[275](7,1)[490](8,1)[465]
(0,2)[495](1,2)[345](2,2)[370](3,2)[270](4,2)[215](5,2)[320](6,2)[250](7,2)[475](8,2)[465]
(0,3)[175](1,3)[415](2,3)[545](3,3)[290](4,3)[250](5,3)[320](6,3)[265](7,3)[495](8,3)[465]
(0,4)[170](1,4)[330](2,4)[300](3,4)[475](4,4)[305](5,4)[205](6,4)[405](7,4)[455](8,4)[465]
(0,5)[170](1,5)[330](2,5)[305](3,5)[345](4,5)[300](5,5)[390](6,5)[255](7,5)[510](8,5)[465]
(0,6)[175](1,6)[380](2,6)[335](3,6)[330](4,6)[300](5,6)[400](6,6)[550](7,6)[495](8,6)[470]
(0,7)[175](1,7)[270](2,7)[290](3,7)[555](4,7)[350](5,7)[465](6,7)[525](7,7)[540](8,7)[515]};
\end{axis}
\node[font=\fs{18}] at (473,3014) {CD57};\node[font=\fs{18}] at (596,3014) {CD229};\node[font=\fs{18}] at (726,3014) {CD160};\node[font=\fs{18}] at (848,3014) {CD26};\node[font=\fs{18}] at (959,3014) {CD55};\node[font=\fs{18}] at (1068,3014) {DR};\node[font=\fs{18}] at (1190,3014) {CD8};\node[font=\fs{18}] at (1300,3014) {CD38};\node[font=\fs{18}] at (1414,3014) {LAIR};
\def\swgap{26}
\swatch{1507}{1553}{3097}{bP1}{Pop.1}\swatch{1507}{1553}{3168}{bP2}{Pop.2}\swatch{1507}{1553}{3239}{bP5}{Pop.5}\swatch{1507}{1553}{3311}{bP7}{Pop.7}\swatch{1507}{1553}{3380}{bP4}{Pop.4}\swatch{1507}{1553}{3452}{bP6}{Pop.6}\swatch{1507}{1553}{3522}{bP0}{Pop.0}\swatch{1507}{1553}{3593}{bP3}{Pop.3}

% I stacked
\stackaxis{2313}{2783}{2533}{3002}{0.354}{6.67}
\seg{bP0}{(1,6.9)(2,4.1)(3,8.4)(4,7.7)(5,6.5)(6,7.5)}
\seg{bP1}{(1,9.4)(2,4.8)(3,7.6)(4,9.7)(5,13.3)(6,17.4)}
\seg{bP2}{(1,8.6)(2,11.8)(3,10.3)(4,11.3)(5,11.1)(6,9.8)}
\seg{bP3}{(1,2.6)(2,19.1)(3,6.1)(4,2.9)(5,2.4)(6,.6)}
\seg{bP4}{(1,10.1)(2,7.5)(3,10.6)(4,10.9)(5,9.2)(6,6.8)}
\seg{bP5}{(1,16.3)(2,10.2)(3,10.6)(4,16.6)(5,24.5)(6,27.5)}
\seg{bP6}{(1,30.7)(2,38)(3,35.3)(4,26.6)(5,17.9)(6,13.2)}
\seg{bP7}{(1,15.4)(2,4.5)(3,11.1)(4,14.3)(5,15.1)(6,17.2)}
\end{axis}
\node[rotate=90,font=\fs{19}\bfseries] at (2189,2768) {\%};
\def\swgap{29}
\swatch{2122}{2165}{3120}{bP7}{Pop.7}\swatch{2122}{2165}{3178}{bP6}{Pop.6}\swatch{2122}{2165}{3236}{bP5}{Pop.5}\swatch{2122}{2165}{3293}{bP4}{Pop.4}\swatch{2122}{2165}{3351}{bP3}{Pop.3}\swatch{2122}{2165}{3409}{bP2}{Pop.2}\swatch{2122}{2165}{3466}{bP1}{Pop.1}\swatch{2122}{2165}{3524}{bP0}{Pop.0}
\def\ca{2370.6}\def\cb{2508}\def\cc{2589}\def\cd{2670}\def\ce{2758}
\sigrow{3137}{***}{***}{***}{***}{***}
\sigrow{3195}{ns}{ns}{**}{**}{***}
\sigrow{3252}{*}{ns}{**}{***}{***}
\sigrow{3310}{ns}{***}{**}{ns}{ns}
\sigrow{3368}{***}{***}{***}{***}{***}
\sigrow{3425}{ns}{ns}{ns}{ns}{ns}
\sigrow{3483}{**}{***}{**}{***}{***}
\sigrow{3541}{*}{***}{**}{ns}{**}
\end{tikzpicture}
\end{document}
